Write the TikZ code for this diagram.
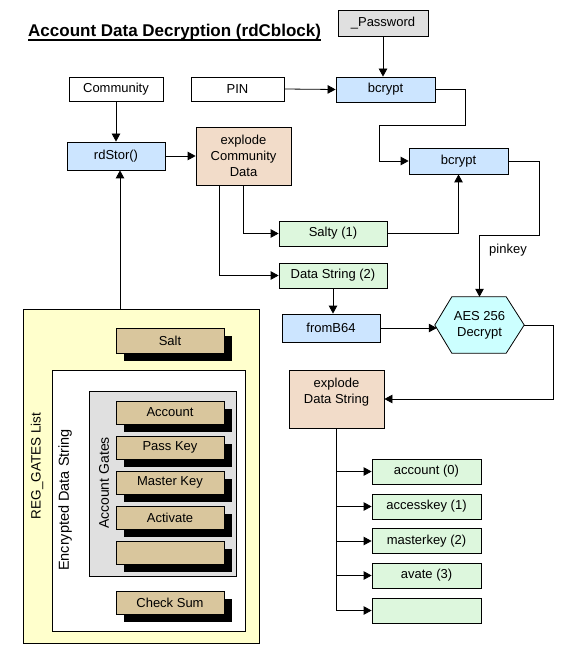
\documentclass[tikz,border=0pt]{standalone}
\usepackage{fontspec}
\setmainfont{Liberation Sans}
\usetikzlibrary{arrows.meta,shadows}
\definecolor{cblue}{HTML}{CCE5FF}
\definecolor{cpeach}{HTML}{F2DCC9}
\definecolor{cgreen}{HTML}{DDF7DD}
\definecolor{ccyan}{HTML}{CCFFFF}
\definecolor{cgray}{HTML}{E0E0E0}
\definecolor{cyellow}{HTML}{FFFFCC}
\definecolor{ctan}{HTML}{D9C69D}
\begin{document}
\begin{tikzpicture}[x=1pt,y=-1pt,
  box/.style={draw, line width=0.8pt, inner sep=0pt, align=center,
    font=\fontsize{13}{16}\selectfont},
  arr/.style={line width=0.8pt, -{Triangle[length=8pt,width=8.5pt]}},
  ln/.style={line width=0.8pt},
  gbox/.style={box, fill=cgreen, minimum width=109pt, minimum height=25pt},
  tbox/.style={box, fill=ctan, minimum width=108pt, minimum height=23pt,
    drop shadow={shadow xshift=8pt, shadow yshift=-8pt, fill=black, opacity=1}},
  rot/.style={rotate=90, inner sep=0pt}
]
\useasboundingbox (0,0) rectangle (563,652);

% title
\node[anchor=base west, inner sep=0pt, font=\fontsize{17}{20}\selectfont\bfseries] (title) at (28,37) {Account Data Decryption (rdCblock)};
\draw[line width=1.5pt] ([yshift=-3pt]title.base west) -- ([yshift=-3pt]title.base east);

% top nodes
\node[box, fill=cgray, minimum width=90pt, minimum height=26pt] (pw) at (383,23) {\_Password};
\node[box, fill=white, minimum width=94pt, minimum height=24pt] (comm) at (116,89) {Community};
\node[box, fill=white, minimum width=93pt, minimum height=24pt] (pin) at (237.5,89) {PIN};
\node[box, fill=cblue, minimum width=99pt, minimum height=25pt] (bc1) at (385.5,89.5) {bcrypt};
\node[box, fill=cblue, minimum width=98pt, minimum height=28pt] (rd) at (116,156) {rdStor()};
\node[box, fill=cpeach, minimum width=95pt, minimum height=58pt] (exc) at (243.5,156) {explode\\Community\\Data};
\node[box, fill=cblue, minimum width=99pt, minimum height=26pt] (bc2) at (458.5,161) {bcrypt};
\node[box, fill=cgreen, minimum width=108pt, minimum height=25pt] (salty) at (333,233.5) {Salty (1)};
\node[box, fill=cgreen, minimum width=108pt, minimum height=25pt] (ds) at (333,275.5) {Data String (2)};
\node[box, fill=cblue, minimum width=98pt, minimum height=28pt] (fb) at (331,328) {fromB64};

% hexagon
\node[minimum width=89pt, minimum height=56pt, inner sep=0pt] (hex) at (479.5,325) {};
\draw[ln, fill=ccyan] (hex.west) -- ([xshift=17pt]hex.north west) -- ([xshift=-18pt]hex.north east)
  -- (hex.east) -- ([xshift=-18pt]hex.south east) -- ([xshift=17pt]hex.south west) -- cycle;
\node[align=center, font=\fontsize{13}{16}\selectfont, inner sep=0pt] (hext) at (hex.center) {AES 256\\Decrypt};

\node[box, fill=cpeach, minimum width=95pt, minimum height=58pt] (exd) at (336.5,399) {explode\\Data String\\\mbox{}};

\node[gbox] (g0) at (426.5,471.5) {account (0)};
\node[gbox] (g1) at (426.5,506.5) {accesskey (1)};
\node[gbox] (g2) at (426.5,541) {masterkey (2)};
\node[gbox] (g3) at (426.5,575.5) {avate (3)};
\node[gbox] (g4) at (426.5,610.5) {};

% REG_GATES list
\node[draw, line width=0.8pt, fill=cyellow, minimum width=236pt, minimum height=334pt, inner sep=0pt] (reg) at (141,476) {};
\node[draw, line width=0.8pt, fill=white, minimum width=193pt, minimum height=261pt, inner sep=0pt] (enc) at (148.5,500.5) {};
\node[draw, line width=0.8pt, fill=cgray, minimum width=147pt, minimum height=185pt, inner sep=0pt] (ag) at (162.5,483.5) {};
\node[tbox, minimum height=25pt] (salt) at (170,340.5) {Salt};
\node[tbox] (acc) at (170,412.5) {Account};
\node[tbox] (pk) at (170,447.5) {Pass Key};
\node[tbox] (mk) at (170,482.5) {Master Key};
\node[tbox] (act) at (170,517.5) {Activate};
\node[tbox] (e5) at (170,552.5) {};
\node[tbox] (cs) at (170,602.5) {Check Sum};
\node[rot, font=\fontsize{13.5}{16}\selectfont] (lreg) at (37,466) {REG\_GATES List};
\node[rot, font=\fontsize{14.5}{17}\selectfont] (lenc) at (65,500) {Encrypted Data String};
\node[rot, font=\fontsize{14}{17}\selectfont] (lag) at (104,483) {Account Gates};

% connectors
\draw[arr] (comm.south) -- (rd.north);
\draw[arr] (rd.east) -- (exc.west);
\draw[arr] ([xshift=-21pt]reg.north) -- ([xshift=-21pt]reg.north |- rd.south);
\draw[arr] (pin.east) -- (bc1.west);
\draw[arr] (pw.south) -- (pw.south |- bc1.north);
\draw[arr] (bc1.east) -- ++(30,0) -- ++(0,36) -- ++(-86,0) |- (bc2.west);
\draw[arr] (bc2.east) -- ++(31,0) -- ++(0,74) -| (hex.north);
\node[font=\fontsize{13}{16}\selectfont, inner sep=0pt] (pinkey) at (508,250) {pinkey};
\draw[arr] (exc.south) |- (salty.west);
\draw[arr] ([xshift=-24pt]exc.south) |- (ds.west);
\draw[arr] (salty.east) -| (bc2.south);
\draw[arr] (ds.south) -- (ds.south |- fb.north);
\draw[arr] (fb.east) -- ([xshift=2pt]fb.east -| hex.west);
\draw[arr] (hex.east) -- ++(29,0) |- (exd.east);
\foreach \g in {g0,g1,g2,g3,g4}{\draw[arr] (exd.south) |- (\g.west);}
\end{tikzpicture}
\end{document}
